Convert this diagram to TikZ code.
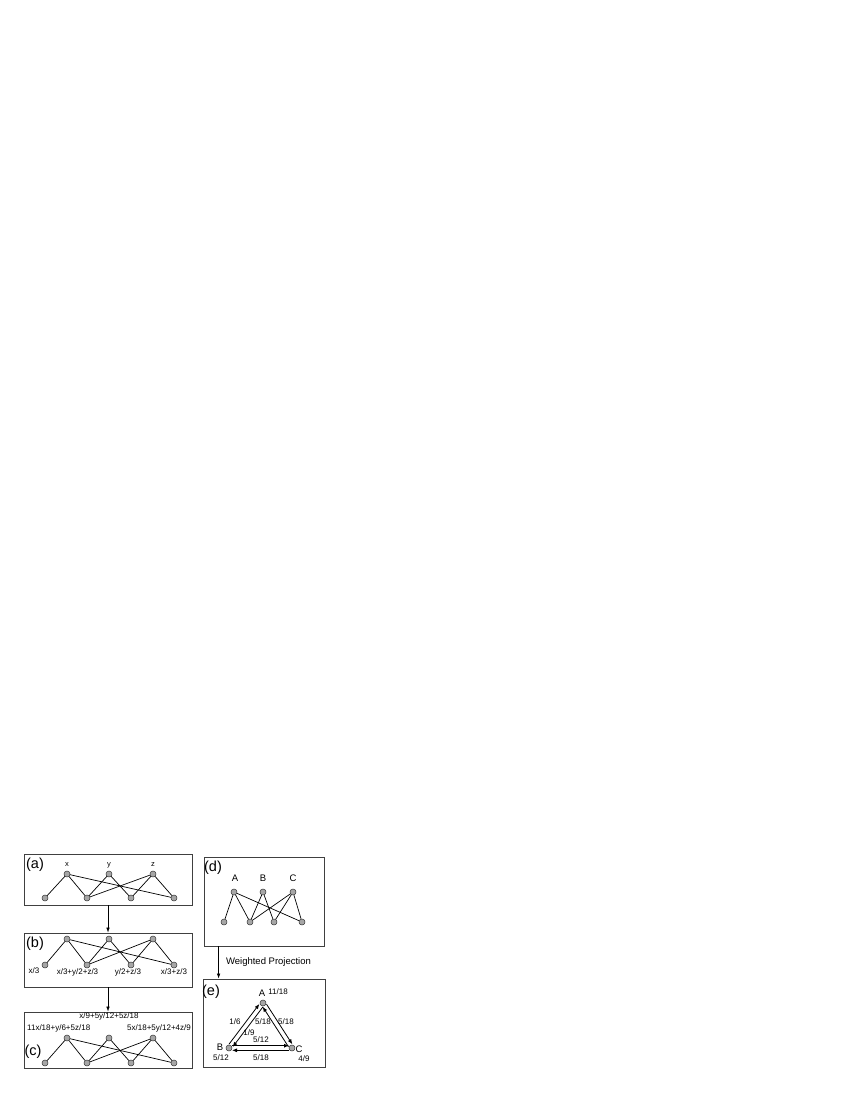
\documentclass[tikz,border=0pt]{standalone}
\usepackage{fontspec}
\setmainfont{Liberation Sans}
\usetikzlibrary{arrows.meta,calc}
\begin{document}
\begin{tikzpicture}[x=1pt,y=-1pt,
  vtx/.style={circle,draw=black!80,fill=black!35,line width=0.5pt,inner sep=0pt,minimum size=6pt},
  panel/.style={draw=black!75,line width=0.8pt,inner sep=0pt,rectangle},
  edge/.style={line width=0.7pt},
  flow/.style={line width=0.6pt,-{Latex[length=5pt,width=3.5pt]}},
  earrow/.style={line width=0.8pt,-{Latex[length=5pt,width=4pt]},shorten <=3pt,shorten >=3pt},
  lbl/.style={inner sep=0pt,font=\fontsize{8}{9}\selectfont},
  small/.style={inner sep=0pt,font=\fontsize{7.5}{8}\selectfont},
  tag/.style={inner sep=0pt,font=\fontsize{14.5}{16}\selectfont},
  big/.style={inner sep=0pt,font=\fontsize{9.5}{11}\selectfont}]
\useasboundingbox (0,0) rectangle (850,1100);

% panels
\node[panel,minimum width=168pt,minimum height=51pt] (pa) at (108,879.5) {};
\node[panel,minimum width=168pt,minimum height=54pt] (pb) at (108,960) {};
\node[panel,minimum width=168pt,minimum height=56pt] (pc) at (108,1040) {};
\node[panel,minimum width=120pt,minimum height=89pt] (pd) at (264,901.5) {};
\node[panel,minimum width=122pt,minimum height=88pt] (pe) at (264,1023) {};

% panel tags
\node[tag] (ta) at (35,865) {(a)};
\node[tag] (tb) at (35,944) {(b)};
\node[tag] (tc) at (33,1052) {(c)};
\node[tag] (td) at (213,868) {(d)};
\node[tag] (te) at (211,992) {(e)};

% flow arrows
\draw[flow] (pa.south) -- (pb.north);
\draw[flow] (pb.south) -- (pc.north);
\coordinate (dstart) at ([xshift=15pt]pd.south west);
\draw[flow] (dstart) -- (dstart |- pe.north);
\node[big] (wp) at (268.5,962) {Weighted Projection};

% bipartite graphs (a),(b),(c)
\foreach \p/\ty/\by in {a/874/898, b/939/965, c/1038/1063} {
  \node[vtx] (\p t1) at (67,\ty) {};
  \node[vtx] (\p t2) at (109,\ty) {};
  \node[vtx] (\p t3) at (153,\ty) {};
  \node[vtx] (\p b1) at (45,\by) {};
  \node[vtx] (\p b2) at (87,\by) {};
  \node[vtx] (\p b3) at (131,\by) {};
  \node[vtx] (\p b4) at (174,\by) {};
  \draw[edge] (\p t1) -- (\p b1);
  \draw[edge] (\p t1) -- (\p b2);
  \draw[edge] (\p t1) -- (\p b4);
  \draw[edge] (\p t2) -- (\p b2);
  \draw[edge] (\p t2) -- (\p b3);
  \draw[edge] (\p t3) -- (\p b2);
  \draw[edge] (\p t3) -- (\p b3);
  \draw[edge] (\p t3) -- (\p b4);
}
% (d)
\node[vtx] (dt1) at (234,892) {};
\node[vtx] (dt2) at (263,892) {};
\node[vtx] (dt3) at (293,892) {};
\node[vtx] (db1) at (224,922) {};
\node[vtx] (db2) at (250,922) {};
\node[vtx] (db3) at (274,922) {};
\node[vtx] (db4) at (302,922) {};
\draw[edge] (dt1) -- (db1);
\draw[edge] (dt1) -- (db2);
\draw[edge] (dt1) -- (db4);
\draw[edge] (dt2) -- (db2);
\draw[edge] (dt2) -- (db3);
\draw[edge] (dt3) -- (db2);
\draw[edge] (dt3) -- (db3);
\draw[edge] (dt3) -- (db4);

% labels (a)
\node[small] (lx) at (67,865) {x};
\node[small] (ly) at (109,865) {y};
\node[small] (lz) at (153,865) {z};
% labels (b)
\node[lbl] (lb1) at (34,971) {x/3};
\node[lbl] (lb2) at (77.5,972) {x/3+y/2+z/3};
\node[lbl] (lb3) at (128,972) {y/2+z/3};
\node[lbl] (lb4) at (174,972) {x/3+z/3};
% labels (c)
\node[lbl] (lc2) at (109,1016) {x/9+5y/12+5z/18};
\node[lbl,anchor=west] (lc1) at (27,1028) {11x/18+y/6+5z/18};
\node[lbl,anchor=east] (lc3) at (191,1028) {5x/18+5y/12+4z/9};
% labels (d)
\node[big] (lA) at (235,878) {A};
\node[big] (lB) at (263,878) {B};
\node[big] (lC) at (293,878) {C};

% (e)
\node[vtx] (A) at (263,1003) {};
\node[vtx] (B) at (229,1048) {};
\node[vtx] (C) at (292,1048) {};
\foreach \P/\Q in {B/A, A/B, A/C, C/A, B/C, C/B} {
  \draw[earrow] ($(\P)!2.3pt!90:(\Q)$) -- ($(\Q)!2.3pt!-90:(\P)$);
}
\node[big] (eA) at (262,993) {A};
\node[big] (eB) at (220,1047) {B};
\node[big] (eC) at (299,1049) {C};
\node[lbl] (wA) at (278,992) {11/18};
\node[lbl] (wB) at (221,1058) {5/12};
\node[lbl] (wC) at (304,1059) {4/9};
\node[lbl] (w16) at (235,1022) {1/6};
\node[lbl] (w19) at (249,1033) {1/9};
\node[lbl] (w518a) at (263,1022) {5/18};
\node[lbl] (w518b) at (286,1022) {5/18};
\node[lbl] (w512) at (261,1040) {5/12};
\node[lbl] (w518c) at (261,1058) {5/18};
\end{tikzpicture}
\end{document}
